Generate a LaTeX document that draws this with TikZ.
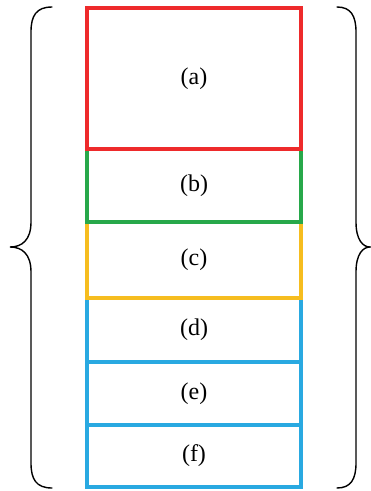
\documentclass[tikz,border=0pt]{standalone}
\usepackage{fontspec}
\setmainfont{Liberation Serif}
\definecolor{cred}{HTML}{EE2A2B}
\definecolor{cgreen}{HTML}{27A84A}
\definecolor{cyellow}{HTML}{F6BD1F}
\definecolor{cblue}{HTML}{29A9E1}
\begin{document}
\begin{tikzpicture}[x=1pt,y=-1pt,
  part/.style={draw, line width=4pt, minimum width=214pt, inner sep=0pt, outer sep=0pt, anchor=north west,
    font=\fontsize{24}{28}\selectfont},
  brace/.style={draw=black, line width=1.4pt, line cap=round}]
\useasboundingbox (0,0) rectangle (371,491);
\node[part, draw=cblue, minimum height=62pt] (f) at (87,425) {(f)};
\node[part, draw=cblue, minimum height=63pt] (e) at (87,362) {(e)};
\node[part, draw=cblue, minimum height=64pt] (d) at (87,298) {(d)};
\node[part, draw=cyellow, minimum height=76pt] (c) at (87,222) {(c)};
\node[part, draw=cgreen, minimum height=73pt] (b) at (87,149) {(b)};
\node[part, draw=cred, minimum height=141pt] (a) at (87,8) {(a)};
% left brace
\coordinate (lt) at (52,7);
\coordinate (lm) at (10,247);
\coordinate (lb) at (52,488);
\draw[brace] (lt) .. controls (36,7) and (31,16) .. (31,32)
  -- (31,222) .. controls (31,240) and (22,247) .. (lm)
  .. controls (22,247) and (31,254) .. (31,272)
  -- (31,463) .. controls (31,479) and (36,488) .. (lb);
% right brace
\coordinate (rt) at (337,7);
\coordinate (rm) at (370,247);
\coordinate (rb) at (337,488);
\draw[brace] (rt) .. controls (351,7) and (356,16) .. (356,32)
  -- (356,222) .. controls (356,240) and (363,247) .. (rm)
  .. controls (363,247) and (356,254) .. (356,272)
  -- (356,463) .. controls (356,479) and (351,488) .. (rb);
\end{tikzpicture}
\end{document}
